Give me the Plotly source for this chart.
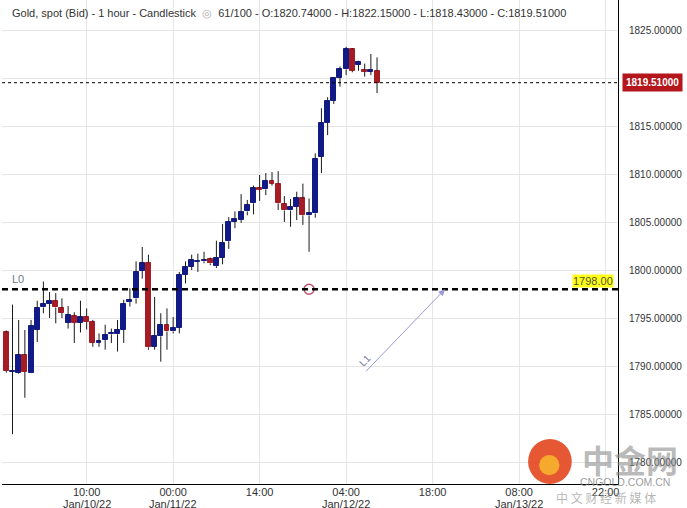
import pandas as pd
import plotly.graph_objects as go

# hourly gold spot candles, Jan 9 21:00 -> Jan 12 09:00
times = pd.date_range("2022-01-09 21:00", periods=61, freq="h")

opens = [1793.5, 1789.4, 1789.3, 1791.15, 1789.3, 1793.8, 1796.1, 1796.5, 1796.8, 1796.0,
         1794.5, 1795.2, 1794.5, 1795.15, 1794.6, 1792.4, 1792.7, 1793.3, 1793.3, 1793.75,
         1796.65, 1797.05, 1799.9, 1800.75, 1792.0, 1793.1, 1794.3, 1793.6, 1794.0, 1799.5,
         1800.35, 1800.85, 1800.9, 1801.1, 1800.4, 1801.3, 1803.0, 1805.05, 1805.2, 1806.1,
         1806.95, 1808.5, 1808.4, 1809.3, 1809.0, 1806.9, 1806.2, 1806.6, 1807.45, 1805.7,
         1805.9, 1811.8, 1815.35, 1817.65, 1820.05, 1820.9, 1823.0, 1821.35, 1820.85, 1820.65,
         1820.74]
highs = [1793.7, 1796.4, 1794.8, 1793.75, 1794.8, 1796.8, 1798.8, 1797.7, 1797.6, 1797.05,
         1796.25, 1795.6, 1796.8, 1796.0, 1794.8, 1793.4, 1794.3, 1793.9, 1794.8, 1796.9,
         1798.1, 1800.9, 1802.4, 1801.6, 1797.2, 1795.5, 1796.0, 1795.1, 1799.8, 1800.9,
         1801.6, 1801.7, 1801.9, 1801.3, 1803.05, 1804.8, 1805.5, 1806.1, 1807.9, 1807.3,
         1808.8, 1809.9, 1810.1, 1810.2, 1810.3, 1807.7, 1807.4, 1808.15, 1809.0, 1807.45,
         1812.15, 1816.85, 1818.0, 1820.1, 1821.2, 1823.25, 1823.1, 1821.8, 1821.5, 1822.5,
         1822.15]
lows = [1789.3, 1782.9, 1789.2, 1786.7, 1789.3, 1792.5, 1795.5, 1795.0, 1794.45, 1795.0,
        1793.9, 1792.4, 1793.5, 1793.8, 1792.0, 1792.0, 1791.7, 1792.4, 1791.5, 1792.4,
        1796.2, 1796.5, 1799.1, 1791.7, 1791.7, 1790.45, 1791.7, 1793.4, 1793.4, 1798.6,
        1800.0, 1799.8, 1800.7, 1800.5, 1800.2, 1800.6, 1802.2, 1804.35, 1804.9, 1805.7,
        1805.8, 1807.2, 1807.8, 1808.8, 1806.25, 1805.0, 1804.5, 1805.2, 1804.7, 1801.9,
        1805.45, 1810.1, 1814.05, 1817.3, 1819.1, 1820.3, 1820.6, 1820.75, 1820.15, 1820.3,
        1818.43]
closes = [1789.5, 1789.5, 1791.15, 1789.4, 1794.2, 1796.0, 1796.5, 1796.8, 1796.1, 1795.55,
          1795.3, 1794.5, 1795.1, 1794.6, 1792.4, 1792.6, 1793.2, 1793.45, 1793.75, 1796.5,
          1796.9, 1799.8, 1800.7, 1791.95, 1793.1, 1794.3, 1793.6, 1794.0, 1799.5, 1800.3,
          1801.0, 1800.95, 1801.0, 1800.7, 1801.2, 1802.8, 1805.0, 1805.3, 1806.0, 1806.8,
          1808.5, 1808.35, 1809.3, 1809.0, 1806.95, 1806.2, 1806.55, 1807.45, 1805.7, 1805.95,
          1811.6, 1815.35, 1817.65, 1819.95, 1820.9, 1823.0, 1820.75, 1821.7, 1820.65, 1820.85,
          1819.51]

level_l0 = 1798.0
last_close = 1819.51
marker_time = "2022-01-11 22:00"
l1_start = ("2022-01-12 07:00", 1789.3)
l1_end = ("2022-01-12 20:00", 1798.0)

x_tickvals = pd.date_range("2022-01-10 10:00", periods=7, freq="14h")
x_ticktext = ["10:00", "00:00", "14:00", "04:00", "18:00", "08:00", "22:00"]
x_datetext = ["Jan/10/22", "Jan/11/22", "", "Jan/12/22", "", "Jan/13/22", ""]
y_tickvals = [1780, 1785, 1790, 1795, 1800, 1805, 1810, 1815, 1820, 1825]
y_ticktext = [f"{v:.5f}" for v in y_tickvals]

UP = "#121a85"
DOWN = "#a51c24"
FONT = "Liberation Sans, Arial, sans-serif"

body_base = [min(o, c) for o, c in zip(opens, closes)]
body_h = [abs(c - o) for o, c in zip(opens, closes)]
body_col = [UP if c >= o else DOWN for o, c in zip(opens, closes)]

# wick segments (above and below the body, so they don't cross it)
wx, wy = [], []
for t, o, h, l, c in zip(times, opens, highs, lows, closes):
    top, bot = max(o, c), min(o, c)
    if h > top:
        wx += [t, t, None]
        wy += [top, h, None]
    if l < bot:
        wx += [t, t, None]
        wy += [l, bot, None]

fig = go.Figure()

fig.add_trace(go.Bar(
    x=times, y=body_h, base=body_base,
    width=0.8 * 3600 * 1000,
    marker=dict(color=body_col, line=dict(color=body_col, width=1)),
    hoverinfo="skip"
))
fig.add_trace(go.Scatter(
    x=wx, y=wy, mode="lines",
    line=dict(color="#1a1a1a", width=1),
    hoverinfo="skip"
))

# L0 horizontal level
fig.add_hline(y=level_l0, line=dict(color="black", width=2.5, dash="6px,4px"))
# last price dotted line
fig.add_hline(y=last_close, line=dict(color="black", width=1, dash="3px,3px"))

fig.add_trace(go.Scatter(
    x=[marker_time], y=[level_l0], mode="markers",
    marker=dict(symbol="circle-open", size=10, color="#c4506c", line=dict(width=1.5)),
    hoverinfo="skip"
))

# L1 trend arrow
fig.add_annotation(
    x=l1_end[0], y=l1_end[1], ax=l1_start[0], ay=l1_start[1],
    xref="x", yref="y", axref="x", ayref="y",
    text="", showarrow=True, arrowhead=2, arrowsize=1.3, arrowwidth=1,
    arrowcolor="#9a9ad8"
)
fig.add_annotation(
    x="2022-01-12 07:00", y=1790.6, xref="x", yref="y",
    text="L1", showarrow=False, textangle=-46,
    font=dict(family=FONT, size=10, color="#7a7aa8")
)

fig.add_annotation(
    x=0, y=level_l0, xref="paper", yref="y", xanchor="left", yanchor="bottom",
    xshift=8, yshift=2, text="L0", showarrow=False,
    font=dict(family=FONT, size=11, color="#6a7a8c")
)
fig.add_annotation(
    x=1, y=level_l0, xref="paper", yref="y", xanchor="right", yanchor="bottom",
    xshift=-4, yshift=1, text="1798.00", showarrow=False,
    bgcolor="#ffff1a", borderpad=0,
    font=dict(family=FONT, size=11, color="#555533")
)
fig.add_annotation(
    x=1, y=last_close, xref="paper", yref="y", xanchor="left", yanchor="middle",
    xshift=4, text="<b>1819.51000</b>", showarrow=False,
    bgcolor="#b4161b", borderpad=3,
    font=dict(family=FONT, size=10, color="white")
)

# second line of the time axis (dates)
for tv, dt in zip(x_tickvals, x_datetext):
    if dt:
        fig.add_annotation(
            x=tv, y=0, xref="x", yref="paper", xanchor="center", yanchor="top",
            yshift=-12, text=dt, showarrow=False,
            font=dict(family=FONT, size=11, color="#333333")
        )

# header line
fig.add_annotation(
    x=0, y=1, xref="paper", yref="paper", xanchor="left", yanchor="top",
    xshift=8, yshift=-5, showarrow=False,
    text=("Gold, spot (Bid) - 1 hour - Candlestick  <span style='color:#aaa'>◎</span>  "
          "61/100 - O:1820.74000 - H:1822.15000 - L:1818.43000 - C:1819.51000"),
    font=dict(family=FONT, size=11, color="#333333")
)

# watermark
fig.add_shape(type="circle", xref="paper", yref="paper",
              x0=0.854, x1=0.925, y0=0.0, y1=0.093,
              fillcolor="#e2461d", line=dict(width=0), opacity=0.9)
fig.add_shape(type="circle", xref="paper", yref="paper",
              x0=0.872, x1=0.905, y0=0.018, y1=0.06,
              fillcolor="#f7b42c", line=dict(width=0), opacity=0.9)
fig.add_annotation(x=1.02, y=0.052, xref="paper", yref="paper", text="<b>中金网</b>",
                   xanchor="center", yanchor="middle", showarrow=False,
                   font=dict(family="Noto Sans CJK SC", size=32, color="rgba(140,140,140,0.6)"))
fig.add_annotation(x=1.011, y=0.004, xref="paper", yref="paper", text="CNGOLD.COM.CN",
                   xanchor="center", yanchor="middle", showarrow=False,
                   font=dict(family=FONT, size=10.5, color="rgba(130,130,130,0.8)"))
fig.add_annotation(x=0.98, y=-0.028, xref="paper", yref="paper",
                   text="中 文 财 经 新 媒 体", xanchor="center", yanchor="middle",
                   showarrow=False,
                   font=dict(family="Noto Sans CJK SC", size=12, color="rgba(150,150,150,0.7)"))

fig.update_layout(
    width=687, height=508,
    margin=dict(l=2, r=69, t=0, b=24),
    paper_bgcolor="white", plot_bgcolor="white",
    showlegend=False,
    bargap=0,
    font=dict(family=FONT, size=11, color="#333333"),
    xaxis=dict(
        type="date", automargin=False,
        range=["2022-01-09 20:18", "2022-01-14 00:00"],
        tickvals=x_tickvals, ticktext=x_ticktext,
        showgrid=True, gridcolor="#e6e6e6", gridwidth=1,
        showline=True, linecolor="black", linewidth=1,
        ticks="", ticklabelstandoff=-2, zeroline=False,
        tickfont=dict(family=FONT, size=11, color="#333333"),
    ),
    yaxis=dict(
        side="right", automargin=False,
        range=[1777.71, 1828.125],
        tickvals=y_tickvals, ticktext=y_ticktext,
        showgrid=True, gridcolor="#e6e6e6", gridwidth=1,
        showline=True, linecolor="black", linewidth=1,
        ticks="", ticklabelstandoff=8, zeroline=False,
        tickfont=dict(family=FONT, size=10, color="#333333"),
    ),
)

fig.write_html("out.html", config={"displayModeBar": False},
               post_script="document.body.style.margin='0px';")
